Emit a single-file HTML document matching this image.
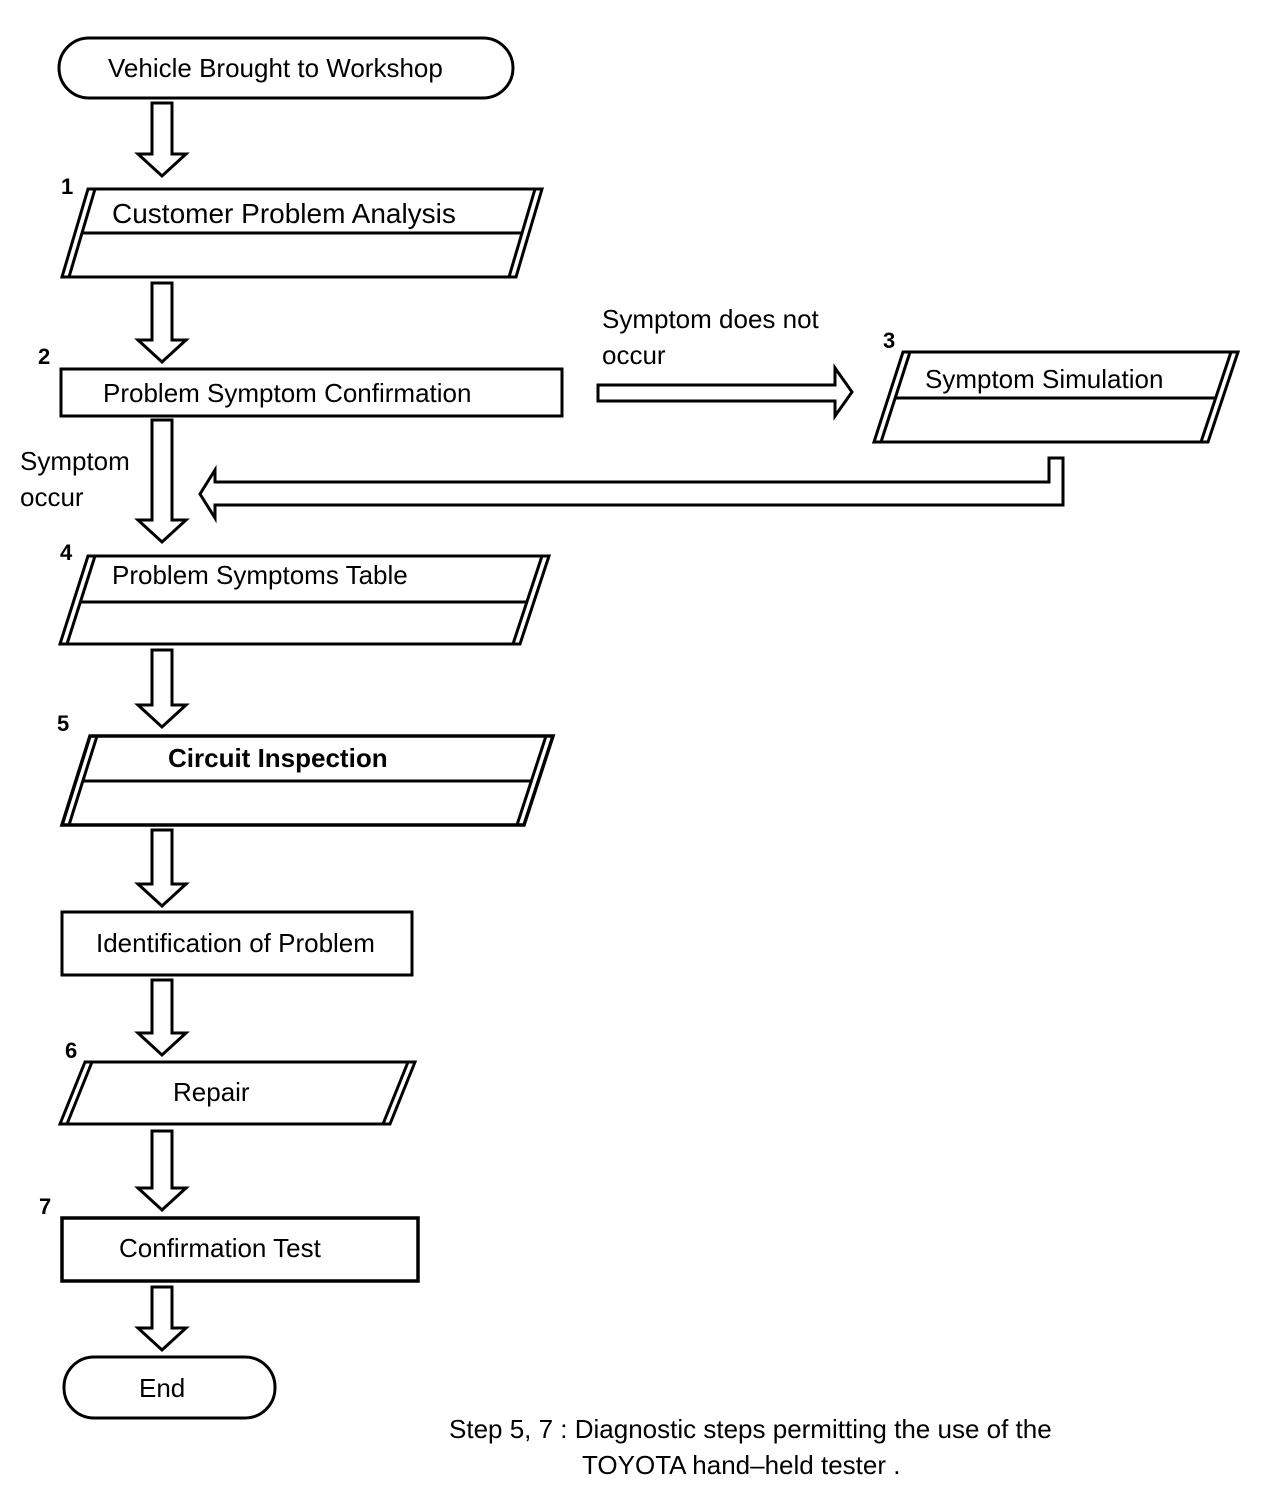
<!DOCTYPE html>
<html><head><meta charset="utf-8"><style>html,body{margin:0;padding:0;background:#fff}svg{display:block}</style></head><body>
<svg width="1280" height="1510" viewBox="0 0 1280 1510" xmlns="http://www.w3.org/2000/svg" font-family="Liberation Sans, Arial, sans-serif" fill="none" stroke="#000">
<g stroke-width="3" stroke-linejoin="miter">
<!-- rounded terminals -->
<rect x="59" y="38" width="454" height="60" rx="30"/>
<rect x="64" y="1357" width="211" height="61" rx="30"/>
<!-- rects -->
<rect x="61" y="369" width="501" height="47"/>
<rect x="62" y="912" width="350" height="63"/>
<rect x="62" y="1218" width="356" height="63" stroke-width="3.5"/>
<!-- P1 -->
<polygon points="88,189 542,189 516,277 62,277"/>
<line x1="95" y1="189" x2="69" y2="277"/><line x1="535" y1="189" x2="509" y2="277"/>
<line x1="82" y1="233" x2="522" y2="233"/>
<!-- P3 -->
<polygon points="903,352 1238,352 1208,442 874,442"/>
<line x1="910" y1="352" x2="881" y2="442"/><line x1="1231" y1="352" x2="1201" y2="442"/>
<line x1="895" y1="398" x2="1216" y2="398"/>
<!-- P4 -->
<polygon points="88,556 549,556 520,644 60,644"/>
<line x1="95" y1="556" x2="67" y2="644"/><line x1="542" y1="556" x2="513" y2="644"/>
<line x1="81" y1="602" x2="528" y2="602"/>
<!-- P5 -->
<polygon points="90,736 553,736 524,825 62,825" stroke-width="3.5"/>
<line x1="97" y1="736" x2="69" y2="825"/><line x1="546" y1="736" x2="517" y2="825"/>
<line x1="83" y1="781" x2="532" y2="781"/>
<!-- P6 -->
<polygon points="85,1062 415,1062 390,1124 60,1124"/>
<line x1="92" y1="1062" x2="67" y2="1124"/><line x1="408" y1="1062" x2="383" y2="1124"/>
<!-- down arrows -->
<path d="M152,103 H172 V154 H186 L162,176 L138,154 H152 Z"/>
<path d="M152,283 H172 V340 H186 L162,362 L138,340 H152 Z"/>
<path d="M152,420 H172 V520 H186 L162,542 L138,520 H152 Z"/>
<path d="M152,650 H172 V705 H186 L162,727 L138,705 H152 Z"/>
<path d="M152,830 H172 V884 H186 L162,906 L138,884 H152 Z"/>
<path d="M152,980 H172 V1033 H186 L162,1055 L138,1033 H152 Z"/>
<path d="M152,1131 H172 V1188 H186 L162,1210 L138,1188 H152 Z"/>
<path d="M152,1287 H172 V1328 H186 L162,1350 L138,1328 H152 Z"/>
<!-- right arrow -->
<path d="M598,385 H835 V368 L852,392 L835,416 V401 H598 Z"/>
<!-- return arrow -->
<path d="M1049,458 H1063 V505 H215 V518 L200,494 L215,470 V482 H1049 Z"/>
</g>
<g fill="#000" stroke="none" font-size="26">
<text x="108" y="77">Vehicle Brought to Workshop</text>
<text x="112" y="223" font-size="28">Customer Problem Analysis</text>
<text x="103" y="402">Problem Symptom Confirmation</text>
<text x="602" y="328">Symptom does not</text>
<text x="602" y="364">occur</text>
<text x="925" y="388">Symptom Simulation</text>
<text x="20" y="470">Symptom</text>
<text x="20" y="506">occur</text>
<text x="112" y="584">Problem Symptoms Table</text>
<text x="168" y="767" font-weight="bold">Circuit Inspection</text>
<text x="96" y="952">Identification of Problem</text>
<text x="173" y="1101">Repair</text>
<text x="119" y="1257">Confirmation Test</text>
<text x="139" y="1397">End</text>
<text x="449" y="1438">Step 5, 7 : Diagnostic steps permitting the use of the</text>
<text x="582" y="1474">TOYOTA hand–held tester .</text>
<g font-weight="bold" font-size="22">
<text x="61" y="194">1</text>
<text x="38" y="364">2</text>
<text x="883" y="348">3</text>
<text x="60" y="560">4</text>
<text x="57" y="731">5</text>
<text x="65" y="1058">6</text>
<text x="39" y="1214">7</text>
</g>
</g>
</svg>
</body></html>
